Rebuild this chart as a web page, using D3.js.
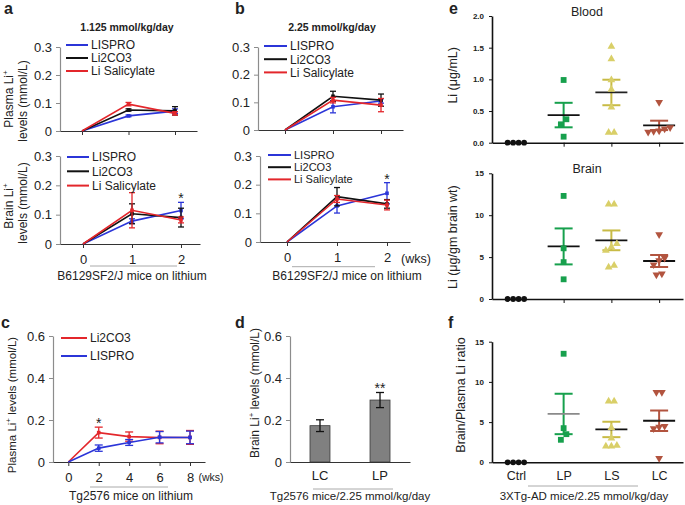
<!DOCTYPE html>
<html>
<head>
<meta charset="utf-8">
<script src="https://cdn.jsdelivr.net/npm/d3@7"></script>
<style>
  body { margin: 0; background: #fff; }
  svg { display: block; }
</style>
</head>
<body>
<svg id="chart" width="685" height="505"></svg>
<script>
// ---------- data ----------
const weeksAB = [0, 1, 2];
const seriesAB = ["LISPRO", "Li2CO3", "Li Salicylate"];
// rows: LISPRO, Li2CO3, Li Salicylate
const plasmaLowMean = [[0, 0.054, 0.071], [0, 0.075, 0.072], [0, 0.096, 0.063]];
const plasmaLowErr = [[0, 0.003, 0.008], [0, 0.004, 0.015], [0, 0.006, 0.006]];
const brainLowMean = [[0, 0.078, 0.114], [0, 0.103, 0.09], [0, 0.115, 0.082]];
const brainLowErr = [[0, 0.008, 0.028], [0, 0.034, 0.032], [0, 0.06, 0.01]];
const plasmaHighMean = [[0, 0.084, 0.105], [0, 0.122, 0.108], [0, 0.108, 0.09]];
const plasmaHighErr = [[0, 0.022, 0.008], [0, 0.018, 0.022], [0, 0.01, 0.024]];
const brainHighMean = [[0, 0.126, 0.17], [0, 0.158, 0.133], [0, 0.15, 0.129]];
const brainHighErr = [[0, 0.025, 0.037], [0, 0.032, 0.015], [0, 0.012, 0.017]];
const yTicksAB = [0, 0.1, 0.2, 0.3];

const weeksC = [0, 2, 4, 6, 8];
const seriesC = ["Li2CO3", "LISPRO"];
const plasmaTgMean = [[0, 0.14, 0.121, 0.117, 0.117], [0, 0.066, 0.093, 0.118, 0.117]];
const plasmaTgErr = [[0, 0.026, 0.022, 0.03, 0.033], [0, 0.015, 0.014, 0.027, 0.03]];
const yTicksCD = [0, 0.2, 0.4, 0.6];

const groupsD = ["LC", "LP"];
const brainTgMean = [0.173, 0.295];
const brainTgErr = [0.028, 0.036];

const groupsEF = ["Ctrl", "LP", "LS", "LC"];
const bloodLi = [[0, 0, 0, 0], [0.99, 0.37, 0.29, 0.095], [1.52, 1.32, 0.99, 0.84, 0.56, 0.16, 0.16], [0.64, 0.24, 0.22, 0.19, 0.18, 0.17]];
const brainLi = [[0, 0, 0, 0], [12.3, 6.05, 4.4, 2.35], [11.3, 11.3, 6.6, 6.2, 5.8, 4.0, 3.8], [7.7, 4.9, 4.6, 4.1, 3.0, 2.9]];
const ratioLi = [[0, 0, 0, 0], [13.5, 4.25, 3.5, 2.8], [7.6, 7.6, 4.3, 3.0, 2.1, 2.0, 2.0], [8.7, 8.7, 4.5, 4.4, 4.2, 0.5]];
const bloodTicks = [0, 0.5, 1.0, 1.5, 2.0];
const brainTicks = [0, 5, 10, 15];

// ---------- styles ----------
const FONT = '"Liberation Sans", Arial, Helvetica, sans-serif';
const colAB = ["#2b35d8", "#111111", "#e3262b"];
const colC = ["#e3262b", "#2b35d8"];
const grpFill = ["#111111", "#17a04d", "#d9cf68", "#b2543f"];
const grpErr = ["#111111", "#17a04d", "#c8bb45", "#b2543f"];

const svg = d3.select("#chart").attr("font-family", FONT);

function styleAxis(sel, color, size, bold) {
    sel.attr("font-family", null).attr("font-size", null);
    sel.select(".domain").attr("stroke", color).attr("stroke-width", 1.2);
    sel.selectAll(".tick line").attr("stroke", color);
    sel.selectAll(".tick text").attr("fill", "#222")
        .style("font-size", size + "px")
        .style("font-weight", bold ? "bold" : "normal");
}

// text with optional superscript parts ("^+")
function richText(x, y, parts, o = {}) {
    const t = svg.append("text").attr("x", x).attr("y", y)
        .attr("text-anchor", o.anchor || "start")
        .attr("fill", o.fill || "#222")
        .style("font-size", (o.size || 12) + "px")
        .style("font-weight", o.bold ? "bold" : "normal");
    if (o.rotate) t.attr("transform", `rotate(-90,${x},${y})`);
    let up = false;
    parts.forEach(p => {
        const sup = p.startsWith("^");
        const ts = t.append("tspan").text(sup ? p.slice(1) : p);
        if (sup) { ts.attr("dy", -5).style("font-size", "8px"); up = true; }
        else if (up) { ts.attr("dy", 5); up = false; }
    });
    return t;
}

function underline(x1, x2, y) {
    svg.append("line").attr("x1", x1).attr("x2", x2).attr("y1", y).attr("y2", y)
        .attr("stroke", "#aaa").attr("stroke-width", 1);
}

// ---------- line panels (a, b, c) ----------
function linePanel(o) {
    const g = svg.append("g");
    const base = d3.scaleLinear().domain([o.xs[0], o.xs[o.xs.length - 1]]).range([o.px0, o.pxN]);
    const x = d3.scaleLinear().domain([base.invert(o.left), base.invert(o.right)]).range([o.left, o.right]);
    const y = d3.scaleLinear().domain([0, o.yMax]).range([o.yBottom, o.yTop]);

    const ya = g.append("g").attr("transform", `translate(${o.left},0)`)
        .call(d3.axisLeft(y).tickValues(o.yTicks).tickSize(4).tickSizeOuter(0).tickPadding(4)
            .tickFormat(d => d === 0 ? "0" : d3.format(".1f")(d)));
    styleAxis(ya, "#8c8c8c", 13);
    const xa = g.append("g").attr("transform", `translate(0,${o.yBottom})`)
        .call(d3.axisBottom(x).tickValues(o.xs).tickSize(4).tickSizeOuter(0).tickPadding(7)
            .tickFormat(o.xLabels ? d3.format("d") : () => ""));
    styleAxis(xa, "#333", 13);

    const capW = o.capW || 3;
    o.means.forEach((m, i) => {
        const col = o.colors[i];
        const pts = o.xs.map((w, j) => ({ w, m: m[j], e: o.errs[i][j] }));
        g.append("path").datum(pts)
            .attr("d", d3.line().x(d => x(d.w)).y(d => y(d.m)))
            .attr("fill", "none").attr("stroke", col).attr("stroke-width", 1.6);
        const eb = g.append("g").attr("stroke", col).attr("stroke-width", 1.3)
            .selectAll("g").data(pts.filter(d => d.e > 0)).join("g");
        eb.append("line").attr("x1", d => x(d.w)).attr("x2", d => x(d.w))
            .attr("y1", d => y(d.m - d.e)).attr("y2", d => y(d.m + d.e));
        [-1, 1].forEach(s => eb.append("line")
            .attr("x1", d => x(d.w) - capW).attr("x2", d => x(d.w) + capW)
            .attr("y1", d => y(d.m + s * d.e)).attr("y2", d => y(d.m + s * d.e)));
        g.append("g").attr("fill", col).selectAll("rect").data(pts.slice(1)).join("rect")
            .attr("x", d => x(d.w) - 1.8).attr("y", d => y(d.m) - 1.8)
            .attr("width", 3.6).attr("height", 3.6);
    });

    const L = o.legend;
    o.names.forEach((n, i) => {
        const ly = L.y + i * L.dy;
        g.append("line").attr("x1", L.x).attr("x2", L.x + L.len).attr("y1", ly).attr("y2", ly)
            .attr("stroke", o.colors[i]).attr("stroke-width", 2);
        g.append("text").attr("x", L.x + L.len + 3).attr("y", ly + (L.size || 12) * 0.36)
            .style("font-size", (L.size || 12) + "px").attr("fill", "#222").text(n);
    });

    if (o.star) {
        const s = o.star;
        const top = o.means[s.series][s.index] + o.errs[s.series][s.index];
        g.append("text").attr("x", x(o.xs[s.index])).attr("y", y(top) + 1)
            .attr("text-anchor", "middle").style("font-size", "14px").attr("fill", "#222").text("*");
    }
}

// a
linePanel({ xs: weeksAB, px0: 82, pxN: 175, left: 60, right: 197, yBottom: 131, yTop: 47, yMax: 0.3,
    yTicks: yTicksAB, means: plasmaLowMean, errs: plasmaLowErr, colors: colAB, names: seriesAB,
    legend: { x: 66, y: 45, dy: 13, len: 22 } });
linePanel({ xs: weeksAB, px0: 83, pxN: 181, left: 60, right: 200, yBottom: 244, yTop: 156, yMax: 0.3,
    yTicks: yTicksAB, means: brainLowMean, errs: brainLowErr, colors: colAB, names: seriesAB, xLabels: true,
    legend: { x: 67, y: 157, dy: 14.3, len: 22 }, star: { series: 0, index: 2 } });
// b
linePanel({ xs: weeksAB, px0: 285, pxN: 381, left: 258, right: 403, yBottom: 130, yTop: 47, yMax: 0.3,
    yTicks: yTicksAB, means: plasmaHighMean, errs: plasmaHighErr, colors: colAB, names: seriesAB,
    legend: { x: 264, y: 46, dy: 13.2, len: 23 } });
linePanel({ xs: weeksAB, px0: 287, pxN: 387, left: 260, right: 410, yBottom: 242, yTop: 156, yMax: 0.3,
    yTicks: yTicksAB, means: brainHighMean, errs: brainHighErr, colors: colAB, names: seriesAB, xLabels: true,
    legend: { x: 268, y: 155, dy: 12.2, len: 23, size: 11 }, star: { series: 0, index: 2 } });
// c
linePanel({ xs: weeksC, px0: 68.3, pxN: 190, left: 53, right: 205, yBottom: 462, yTop: 336, yMax: 0.6,
    yTicks: yTicksCD, means: plasmaTgMean, errs: plasmaTgErr, colors: colC, names: seriesC, xLabels: true,
    legend: { x: 61, y: 338, dy: 18, len: 26 }, star: { series: 0, index: 1 }, capW: 4 });

// ---------- bar panel (d) ----------
(function () {
    const x = d3.scaleBand().domain(groupsD).range([290, 410]).paddingInner(0.667).paddingOuter(0.333);
    const y = d3.scaleLinear().domain([0, 0.6]).range([462, 336]);
    const g = svg.append("g");
    const ya = g.append("g").attr("transform", "translate(290,0)")
        .call(d3.axisLeft(y).tickValues(yTicksCD).tickSize(4).tickSizeOuter(0).tickPadding(4)
            .tickFormat(d => d === 0 ? "0" : d3.format(".1f")(d)));
    styleAxis(ya, "#8c8c8c", 13);
    const data = groupsD.map((k, i) => ({ k, m: brainTgMean[i], e: brainTgErr[i] }));
    g.selectAll("rect").data(data).join("rect")
        .attr("x", d => x(d.k)).attr("width", x.bandwidth())
        .attr("y", d => y(d.m)).attr("height", d => y(0) - y(d.m))
        .attr("fill", "#808080").attr("stroke", "#3a3a3a").attr("stroke-width", 0.8);
    const cx = d => x(d.k) + x.bandwidth() / 2;
    const eb = g.append("g").attr("stroke", "#111").attr("stroke-width", 1.3)
        .selectAll("g").data(data).join("g");
    eb.append("line").attr("x1", cx).attr("x2", cx).attr("y1", d => y(d.m - d.e)).attr("y2", d => y(d.m + d.e));
    [-1, 1].forEach(s => eb.append("line").attr("x1", d => cx(d) - 4).attr("x2", d => cx(d) + 4)
        .attr("y1", d => y(d.m + s * d.e)).attr("y2", d => y(d.m + s * d.e)));
    const xa = g.append("g").attr("transform", "translate(0,462)")
        .call(d3.axisBottom(x).tickSize(0).tickSizeOuter(0).tickPadding(9));
    styleAxis(xa, "#333", 13);
    const lp = data[1];
    g.append("text").attr("x", cx(lp)).attr("y", y(lp.m + lp.e) + 1).attr("text-anchor", "middle")
        .style("font-size", "14px").attr("fill", "#222").text("**");
})();

// ---------- scatter panels (e, f) ----------
function swarm(vals, y, step, gap) {
    const idx = vals.map((v, i) => i).sort((a, b) => vals[a] - vals[b]);
    const off = vals.map(() => 0);
    let cl = [idx[0]];
    const flush = () => cl.forEach((k, j) => { off[k] = (j - (cl.length - 1) / 2) * step; });
    for (let n = 1; n < idx.length; n++) {
        const prev = cl[cl.length - 1];
        if (Math.abs(y(vals[idx[n]]) - y(vals[prev])) < gap) cl.push(idx[n]);
        else { flush(); cl = [idx[n]]; }
    }
    flush();
    return off;
}

function scatterPanel(o) {
    const x = d3.scalePoint().domain(groupsEF).range([492, 683]).padding(0.5);
    const y = d3.scaleLinear().domain([0, o.yMax]).range([o.yBottom, o.yTop]);
    const g = svg.append("g");
    const ya = g.append("g").attr("transform", "translate(492,0)")
        .call(d3.axisLeft(y).tickValues(o.ticks).tickFormat(o.fmt).tickSize(3).tickSizeOuter(0).tickPadding(5));
    styleAxis(ya, "#111", 8, true);
    ya.select(".domain").attr("stroke-width", 1.6);
    const xa = g.append("g").attr("transform", `translate(0,${o.yBottom})`)
        .call(d3.axisBottom(x).tickValues(o.xLabels ? groupsEF : groupsEF.slice(1))
            .tickSize(o.xLabels ? 0 : 4).tickSizeOuter(0).tickPadding(9)
            .tickFormat(o.xLabels ? null : () => ""));
    styleAxis(xa, "#111", 12.5);
    xa.select(".domain").attr("stroke-width", 1.6);

    const symbols = [d3.symbol(d3.symbolCircle, 26), d3.symbol(d3.symbolSquare, 34),
        d3.symbol(d3.symbolTriangle, 26), d3.symbol(d3.symbolTriangle, 26)];

    o.values.forEach((vals, gi) => {
        const cx = x(groupsEF[gi]);
        if (gi > 0) {
            const m = d3.mean(vals);
            const sem = d3.deviation(vals) / Math.sqrt(vals.length);
            g.append("line").attr("x1", cx).attr("x2", cx).attr("y1", y(m - sem)).attr("y2", y(m + sem))
                .attr("stroke", grpErr[gi]).attr("stroke-width", 2);
            [-1, 1].forEach(s => g.append("line").attr("x1", cx - 9).attr("x2", cx + 9)
                .attr("y1", y(m + s * sem)).attr("y2", y(m + s * sem))
                .attr("stroke", grpErr[gi]).attr("stroke-width", 2));
            g.append("line").attr("x1", cx - 16).attr("x2", cx + 16).attr("y1", y(m)).attr("y2", y(m))
                .attr("stroke", o.meanColors[gi]).attr("stroke-width", 1.8);
        }
        const off = swarm(vals, y, 5.5, 6);
        g.append("g").selectAll("path").data(vals).join("path")
            .attr("d", symbols[gi])
            .attr("transform", (v, i) => `translate(${cx + off[i]},${y(v)})${gi === 3 ? " rotate(180)" : ""}`)
            .attr("fill", grpFill[gi]);
    });

    if (o.title) richText(587, o.yTop + 0, [o.title], { anchor: "middle", size: 12.5 });
    richText(o.labelX, (o.yTop + o.yBottom) / 2 + o.labelShift, [o.ylabel], { anchor: "middle", size: 12.5, rotate: true });
}

scatterPanel({ values: bloodLi, yMax: 2, yBottom: 142.7, yTop: 16, ticks: bloodTicks, fmt: d3.format(".1f"),
    meanColors: ["#111", "#111", "#222", "#111"], title: "Blood", ylabel: "Li (μg/mL)", labelX: 457, labelShift: -4 });
scatterPanel({ values: brainLi, yMax: 15, yBottom: 299, yTop: 173.3, ticks: brainTicks, fmt: d3.format("d"),
    meanColors: ["#111", "#111", "#111", "#111"], title: "Brain", ylabel: "Li (μg/gm brain wt)", labelX: 457, labelShift: 1 });
scatterPanel({ values: ratioLi, yMax: 15, yBottom: 462.3, yTop: 341.7, ticks: brainTicks, fmt: d3.format("d"),
    meanColors: ["#111", "#8a8a8a", "#111", "#111"], ylabel: "Brain/Plasma Li ratio", labelX: 465, labelShift: -7, xLabels: true });

// ---------- titles, axis labels, captions ----------
richText(4, 14, ["a"], { size: 16, bold: true });
richText(235, 14, ["b"], { size: 16, bold: true });
richText(1, 328, ["c"], { size: 16, bold: true });
richText(235, 328, ["d"], { size: 16, bold: true });
richText(449, 14, ["e"], { size: 16, bold: true });
richText(448, 328, ["f"], { size: 16, bold: true });

richText(127, 31, ["1.125 mmol/kg/day"], { anchor: "middle", size: 10.5, bold: true });
richText(332, 31, ["2.25 mmol/kg/day"], { anchor: "middle", size: 10.5, bold: true });

richText(13, 99, ["Plasma Li", "^+"], { anchor: "middle", size: 12, rotate: true });
richText(27, 101, ["levels (mmol/L)"], { anchor: "middle", size: 12, rotate: true });
richText(13, 206, ["Brain  Li", "^+"], { anchor: "middle", size: 12, rotate: true });
richText(27, 203, ["levels (mmol/L)"], { anchor: "middle", size: 12, rotate: true });
richText(16, 405, ["Plasma Li", "^+", " levels (mmol/L)"], { anchor: "middle", size: 11.5, rotate: true });
richText(259, 393, ["Brain  Li", "^+", " levels (mmol/L)"], { anchor: "middle", size: 12, rotate: true });

richText(416, 263, ["(wks)"], { anchor: "middle", size: 12.5 });
richText(211, 481, ["(wks)"], { anchor: "middle", size: 10.5 });

underline(90, 177, 266);
underline(292, 375, 266.7);
underline(90, 168, 487);
underline(313, 393, 489);
underline(528, 638, 486);

richText(132, 280, ["B6129SF2/J mice on lithium"], { anchor: "middle", size: 12 });
richText(347, 280, ["B6129SF2/J mice on lithium"], { anchor: "middle", size: 12 });
richText(131, 500, ["Tg2576 mice on lithium"], { anchor: "middle", size: 12 });
richText(350, 500, ["Tg2576 mice/2.25 mmol/kg/day"], { anchor: "middle", size: 11.5 });
richText(584, 500, ["3XTg-AD mice/2.25 mmol/kg/day"], { anchor: "middle", size: 11.5 });
</script>
</body>
</html>
